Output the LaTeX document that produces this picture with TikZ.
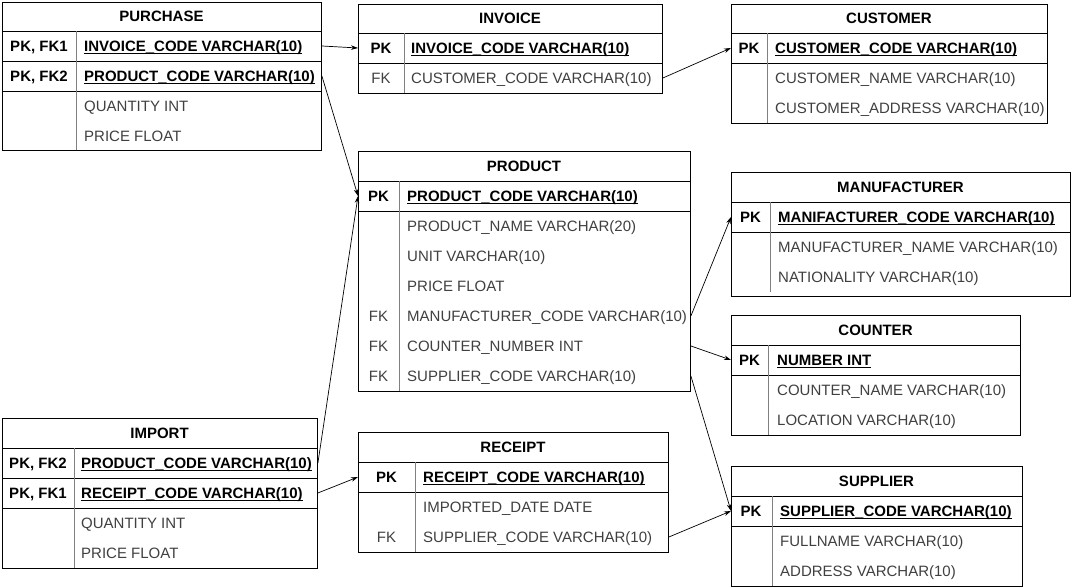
\documentclass[tikz,border=0pt]{standalone}
\usepackage{fontspec}
\setmainfont{Liberation Sans}
\usetikzlibrary{arrows.meta}
\definecolor{txtg}{gray}{0.25}
\definecolor{divg}{gray}{0.5}
\newcommand\ulx[1]{\sbox0{#1}\rlap{\rule[-2.2pt]{\wd0}{1pt}}\usebox0}
\begin{document}
\begin{tikzpicture}[x=1pt,y=-1pt,
  every node/.style={inner sep=0pt, font=\fontsize{15}{17}\selectfont, text height=10.7pt, text depth=0pt},
  tbl/.style={draw, line width=0.9pt, anchor=north west},
  ttl/.style={font=\fontsize{15}{17}\selectfont\bfseries},
  keyb/.style={font=\fontsize{15}{17}\selectfont\bfseries},
  keyn/.style={text=txtg},
  fld/.style={anchor=west, text=txtg},
  pkf/.style={anchor=west, font=\fontsize{15}{17}\selectfont\bfseries},
  sepl/.style={line width=0.9pt},
  divl/.style={draw=divg, line width=0.9pt},
  rel/.style={-{Stealth[length=7pt,width=4.5pt]}, line width=0.7pt}]
\useasboundingbox[fill=white] (0,0) rectangle (1072,588);

% PURCHASE
\node[tbl, minimum width=319, minimum height=148] (pur) at (2,2) {};
\node[ttl] (pur-t) at (161.5,16.5) {PURCHASE};
\draw[sepl] (2,31) -- (321,31) (2,61) -- (321,61) (2,91) -- (321,91);
\draw[divl] (76,31) -- (76,150);
\node[keyb] (pur-k1) at (39,46) {PK, FK1};
\node[keyb] (pur-k2) at (39,76) {PK, FK2};
\node[pkf] (pur-f1) at (84,46) {\ulx{INVOICE\_CODE VARCHAR(10)}};
\node[pkf] (pur-f2) at (84,76) {\ulx{PRODUCT\_CODE VARCHAR(10)}};
\node[fld] (pur-f3) at (84,106) {QUANTITY INT};
\node[fld] (pur-f4) at (84,136) {PRICE FLOAT};

% INVOICE
\node[tbl, minimum width=304, minimum height=89] (inv) at (358,4) {};
\node[ttl] (inv-t) at (510,18.5) {INVOICE};
\draw[sepl] (358,33) -- (662,33) (358,63) -- (662,63);
\draw[divl] (404,33) -- (404,93);
\node[keyb] (inv-k1) at (381,48) {PK};
\node[keyn] (inv-k2) at (381,78) {FK};
\node[pkf] (inv-f1) at (411,48) {\ulx{INVOICE\_CODE VARCHAR(10)}};
\node[fld] (inv-f2) at (411,78) {CUSTOMER\_CODE VARCHAR(10)};

% CUSTOMER
\node[tbl, minimum width=316, minimum height=119] (cus) at (731,4) {};
\node[ttl] (cus-t) at (889,18.5) {CUSTOMER};
\draw[sepl] (731,33) -- (1047,33) (731,63) -- (1047,63);
\draw[divl] (767,33) -- (767,123);
\node[keyb] (cus-k1) at (749,48) {PK};
\node[pkf] (cus-f1) at (775,48) {\ulx{CUSTOMER\_CODE VARCHAR(10)}};
\node[fld] (cus-f2) at (775,78) {CUSTOMER\_NAME VARCHAR(10)};
\node[fld] (cus-f3) at (775,108) {CUSTOMER\_ADDRESS VARCHAR(10)};

% PRODUCT
\node[tbl, minimum width=332, minimum height=240] (prd) at (358,151) {};
\node[ttl] (prd-t) at (524,166) {PRODUCT};
\draw[sepl] (358,181) -- (690,181) (358,211) -- (690,211);
\draw[divl] (399,181) -- (399,391);
\node[keyb] (prd-k1) at (378.5,196) {PK};
\node[keyn] (prd-k5) at (378.5,316) {FK};
\node[keyn] (prd-k6) at (378.5,346) {FK};
\node[keyn] (prd-k7) at (378.5,376) {FK};
\node[pkf] (prd-f1) at (407,196) {\ulx{PRODUCT\_CODE VARCHAR(10)}};
\node[fld] (prd-f2) at (407,226) {PRODUCT\_NAME VARCHAR(20)};
\node[fld] (prd-f3) at (407,256) {UNIT VARCHAR(10)};
\node[fld] (prd-f4) at (407,286) {PRICE FLOAT};
\node[fld] (prd-f5) at (407,316) {MANUFACTURER\_CODE VARCHAR(10)};
\node[fld] (prd-f6) at (407,346) {COUNTER\_NUMBER INT};
\node[fld] (prd-f7) at (407,376) {SUPPLIER\_CODE VARCHAR(10)};

% MANUFACTURER
\node[tbl, minimum width=339, minimum height=124] (man) at (731,172) {};
\node[ttl] (man-t) at (900.5,187) {MANUFACTURER};
\draw[sepl] (731,202) -- (1070,202) (731,232) -- (1070,232);
\draw[divl] (770,202) -- (770,292);
\node[keyb] (man-k1) at (750.5,217) {PK};
\node[pkf] (man-f1) at (778,217) {\ulx{MANIFACTURER\_CODE VARCHAR(10)}};
\node[fld] (man-f2) at (778,247) {MANUFACTURER\_NAME VARCHAR(10)};
\node[fld] (man-f3) at (778,277) {NATIONALITY VARCHAR(10)};

% COUNTER
\node[tbl, minimum width=289, minimum height=120] (cnt) at (731,315) {};
\node[ttl] (cnt-t) at (875.5,330) {COUNTER};
\draw[sepl] (731,345) -- (1020,345) (731,375) -- (1020,375);
\draw[divl] (768,345) -- (768,435);
\node[keyb] (cnt-k1) at (749.5,360) {PK};
\node[pkf] (cnt-f1) at (777,360) {\ulx{NUMBER INT}};
\node[fld] (cnt-f2) at (777,390) {COUNTER\_NAME VARCHAR(10)};
\node[fld] (cnt-f3) at (777,420) {LOCATION VARCHAR(10)};

% IMPORT
\node[tbl, minimum width=315, minimum height=150] (imp) at (2,418) {};
\node[ttl] (imp-t) at (159.5,433) {IMPORT};
\draw[sepl] (2,448) -- (317,448) (2,478) -- (317,478) (2,508) -- (317,508);
\draw[divl] (74,448) -- (74,568);
\node[keyb] (imp-k1) at (38,463) {PK, FK2};
\node[keyb] (imp-k2) at (38,493) {PK, FK1};
\node[pkf] (imp-f1) at (81,463) {\ulx{PRODUCT\_CODE VARCHAR(10)}};
\node[pkf] (imp-f2) at (81,493) {\ulx{RECEIPT\_CODE VARCHAR(10)}};
\node[fld] (imp-f3) at (81,523) {QUANTITY INT};
\node[fld] (imp-f4) at (81,553) {PRICE FLOAT};

% RECEIPT
\node[tbl, minimum width=310, minimum height=120] (rec) at (358,432) {};
\node[ttl] (rec-t) at (513,447) {RECEIPT};
\draw[sepl] (358,462) -- (668,462) (358,492) -- (668,492);
\draw[divl] (415,462) -- (415,552);
\node[keyb] (rec-k1) at (386.5,477) {PK};
\node[keyn] (rec-k3) at (386.5,537) {FK};
\node[pkf] (rec-f1) at (423,477) {\ulx{RECEIPT\_CODE VARCHAR(10)}};
\node[fld] (rec-f2) at (423,507) {IMPORTED\_DATE DATE};
\node[fld] (rec-f3) at (423,537) {SUPPLIER\_CODE VARCHAR(10)};

% SUPPLIER
\node[tbl, minimum width=291, minimum height=120] (sup) at (731,466) {};
\node[ttl] (sup-t) at (876.5,481) {SUPPLIER};
\draw[sepl] (731,496) -- (1022,496) (731,526) -- (1022,526);
\draw[divl] (772,496) -- (772,586);
\node[keyb] (sup-k1) at (751,511) {PK};
\node[pkf] (sup-f1) at (780,511) {\ulx{SUPPLIER\_CODE VARCHAR(10)}};
\node[fld] (sup-f2) at (780,541) {FULLNAME VARCHAR(10)};
\node[fld] (sup-f3) at (780,571) {ADDRESS VARCHAR(10)};

% relations
\draw[rel] (pur.east |- pur-f1) -- (inv.west |- inv-f1);
\draw[rel] (pur.east |- pur-f2) -- (prd.west |- prd-f1);
\draw[rel] (inv.east |- inv-f2) -- (cus.west |- cus-f1);
\draw[rel] (imp.east |- imp-f1) -- (prd.west |- prd-f1);
\draw[rel] (imp.east |- imp-f2) -- (rec.west |- rec-f1);
\draw[rel] (rec.east |- rec-f3) -- (sup.west |- sup-f1);
\draw[rel] (prd.east |- prd-f5) -- (man.west |- man-f1);
\draw[rel] (prd.east |- prd-f6) -- (cnt.west |- cnt-f1);
\draw[rel] (prd.east |- prd-f7) -- (sup.west |- sup-f1);
\end{tikzpicture}
\end{document}
